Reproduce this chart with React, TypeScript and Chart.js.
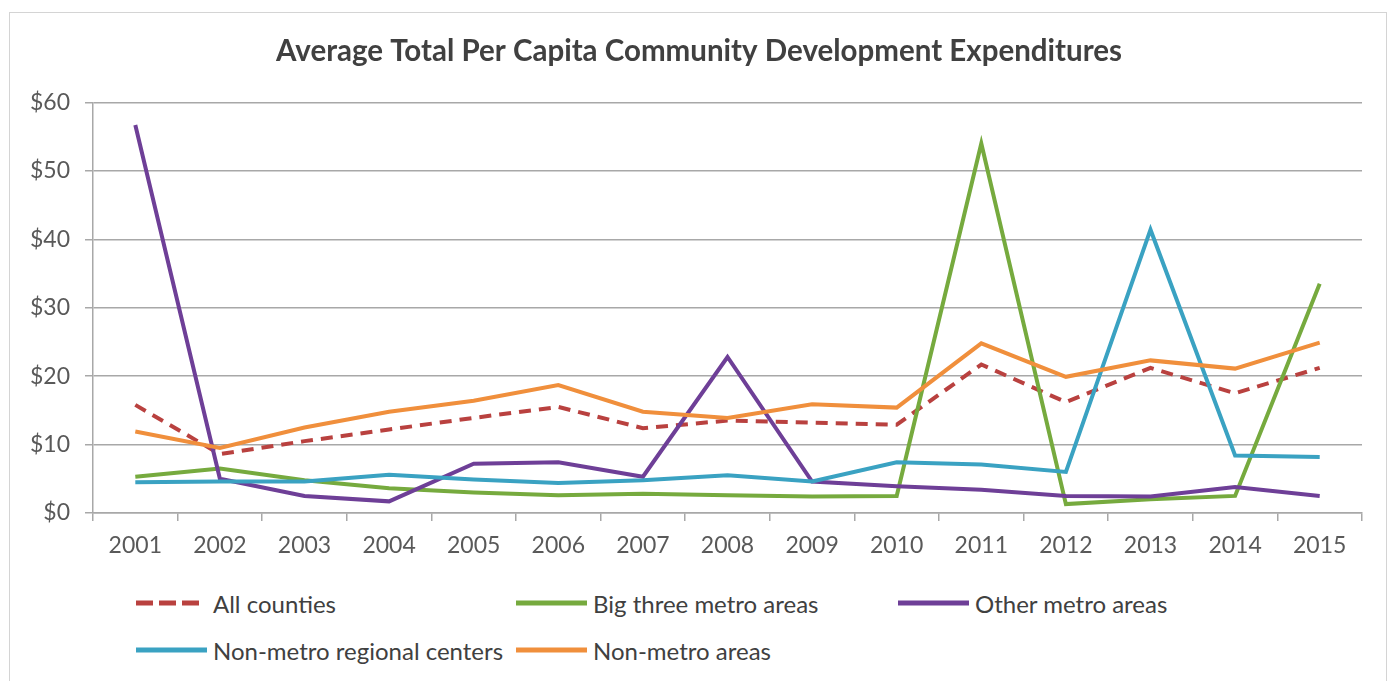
import React, { useEffect, useRef } from "react";
import { Chart, registerables } from "chart.js";

Chart.register(...registerables);

const years = ["2001", "2002", "2003", "2004", "2005", "2006", "2007", "2008", "2009", "2010", "2011", "2012", "2013", "2014", "2015"];
const allCounties = [15.8, 8.6, 10.5, 12.2, 13.9, 15.5, 12.4, 13.5, 13.2, 12.9, 21.7, 16.2, 21.2, 17.5, 21.2];
const bigThree = [5.3, 6.5, 4.8, 3.6, 3.0, 2.6, 2.8, 2.6, 2.4, 2.5, 54.0, 1.3, 2.0, 2.5, 33.5];
const otherMetro = [56.7, 5.0, 2.5, 1.7, 7.2, 7.4, 5.3, 22.8, 4.6, 3.9, 3.4, 2.5, 2.4, 3.8, 2.5];
const regionalCenters = [4.5, 4.6, 4.6, 5.6, 4.9, 4.4, 4.8, 5.5, 4.6, 7.4, 7.1, 6.0, 41.4, 8.4, 8.2];
const nonMetro = [11.9, 9.5, 12.5, 14.8, 16.4, 18.7, 14.8, 13.9, 15.9, 15.4, 24.8, 19.9, 22.3, 21.1, 24.9];
const yTicks = [0, 10, 20, 30, 40, 50, 60];

const titleText = "Average Total Per Capita Community Development Expenditures";
const FONT = "Lato, 'Open Sans', sans-serif";

const series = [
  { label: "All counties", data: allCounties, color: "#b9413f", dashed: true },
  { label: "Big three metro areas", data: bigThree, color: "#76aa3e", dashed: false },
  { label: "Other metro areas", data: otherMetro, color: "#6e3f97", dashed: false },
  { label: "Non-metro regional centers", data: regionalCenters, color: "#3aa2c2", dashed: false },
  { label: "Non-metro areas", data: nonMetro, color: "#f08f3c", dashed: false },
];

const legendLayout = [
  { idx: 0, left: 126, top: 590 },
  { idx: 1, left: 506, top: 590 },
  { idx: 2, left: 888, top: 590 },
  { idx: 3, left: 126, top: 637 },
  { idx: 4, left: 506, top: 637 },
];

const titleShift = {
  id: "titleShift",
  afterLayout(chart: any) {
    const t = chart.titleBlock;
    if (t) {
      t.left = t.left + 26;
      t.width = t.right - t.left;
    }
  },
};

export default function App() {
  const ref = useRef<HTMLCanvasElement | null>(null);

  useEffect(() => {
    if (!ref.current) return;
    const chart = new Chart(ref.current, {
      type: "line",
      data: {
        labels: years,
        datasets: series.map((s, i) => ({
          label: s.label,
          data: s.data,
          borderColor: s.color,
          backgroundColor: s.color,
          borderWidth: 4,
          borderDash: s.dashed ? [12, 8] : [],
          pointRadius: 0,
          tension: 0,
          fill: false,
          order: series.length - i,
        })),
      },
      plugins: [titleShift],
      options: {
        animation: false,
        responsive: false,
        maintainAspectRatio: false,
        layout: { padding: { left: 0, right: 24, top: 0, bottom: 0 } },
        plugins: {
          legend: { display: false },
          tooltip: { enabled: false },
          title: {
            display: true,
            text: titleText,
            color: "#404040",
            font: { family: FONT, size: 29.5, weight: "bold" },
            padding: { top: 21, bottom: 33 },
          },
        },
        scales: {
          x: {
            offset: true,
            grid: {
              display: true,
              drawOnChartArea: false,
              drawTicks: true,
              tickLength: 8,
              offset: true,
              color: "#a8a8a8",
              lineWidth: 1.5,
            },
            border: { display: true, color: "#a8a8a8", width: 1.5 },
            ticks: {
              color: "#595959",
              font: { family: FONT, size: 23 },
              padding: 11,
              maxRotation: 0,
              autoSkip: false,
            },
            afterFit: (s: any) => {
              s.height = 48;
            },
          },
          y: {
            min: 0,
            max: 60,
            afterBuildTicks: (s: any) => {
              s.ticks = yTicks.map((v) => ({ value: v }));
            },
            grid: {
              color: "#a8a8a8",
              lineWidth: 1.5,
              drawTicks: true,
              tickLength: 8,
            },
            border: { display: true, color: "#a8a8a8", width: 1.5 },
            ticks: {
              color: "#595959",
              font: { family: FONT, size: 23 },
              padding: 15,
              callback: (v: any) => "$" + v,
            },
            afterFit: (s: any) => {
              s.width = 83;
            },
          },
        },
      },
    });
    return () => chart.destroy();
  }, []);

  return (
    <div
      style={{
        position: "absolute",
        left: 9,
        top: 12,
        width: 1378,
        height: 700,
        border: "1px solid #d4d4d4",
        boxSizing: "border-box",
        background: "#ffffff",
        fontFamily: FONT,
      }}
    >
      <canvas ref={ref} width={1376} height={548} style={{ position: "absolute", left: 0, top: 0, width: 1376, height: 548 }} />
      {legendLayout.map((l) => {
        const s = series[l.idx];
        return (
          <div
            key={s.label}
            style={{
              position: "absolute",
              left: l.left,
              top: l.top - 15,
              height: 30,
              display: "flex",
              alignItems: "center",
              whiteSpace: "nowrap",
            }}
          >
            <svg width={72} height={10} style={{ marginRight: 5 }}>
              <line
                x1={0}
                y1={5}
                x2={s.dashed ? 63 : 71}
                y2={5}
                stroke={s.color}
                strokeWidth={5}
                strokeDasharray={s.dashed ? "17 6" : undefined}
              />
            </svg>
            <span style={{ fontSize: 24, color: "#404040" }}>{s.label}</span>
          </div>
        );
      })}
    </div>
  );
}
